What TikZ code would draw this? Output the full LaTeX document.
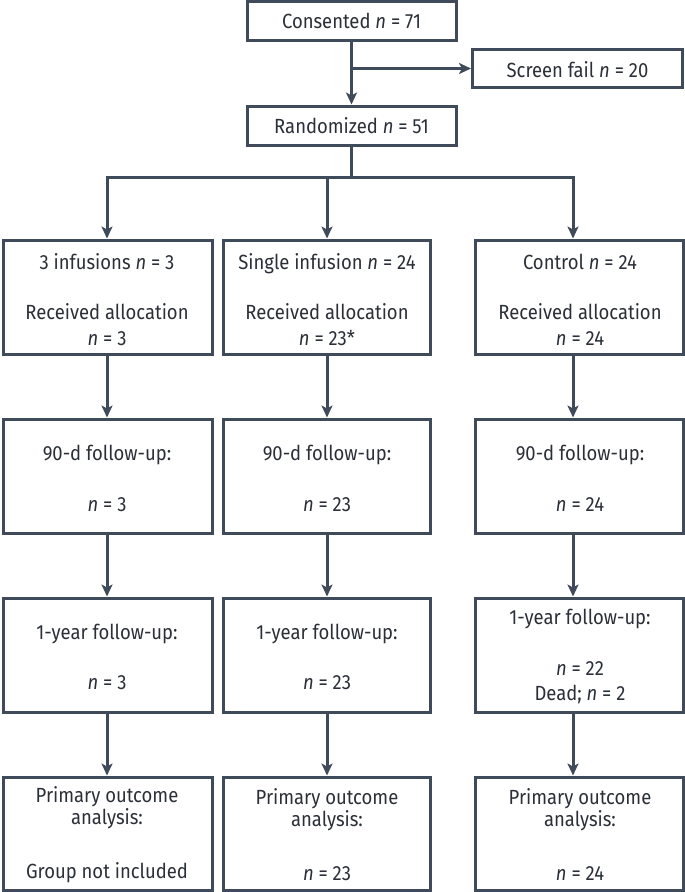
\documentclass[tikz,border=0pt]{standalone}
\usepackage{fontspec}
\setmainfont{Fira Sans}[FakeStretch=0.9]
\usetikzlibrary{arrows.meta}
\definecolor{ln}{HTML}{3F4A5A}
\definecolor{tx}{HTML}{2A2F38}
\newcommand{\nvar}{\textit{n}}
\begin{document}
\begin{tikzpicture}[x=1pt,y=-1pt,
  box/.style={draw=ln,line width=3pt,inner sep=0pt,fill=white},
  txt/.style={text=tx,font=\fontsize{20.5}{23}\selectfont,inner sep=0pt,text height=14pt,text depth=0pt,anchor=center},
  conn/.style={draw=ln,line width=3pt,line join=miter},
  arr/.style={conn,-{Stealth[length=12pt,width=11pt,inset=3pt]}}]
\useasboundingbox[fill=white] (0,0) rectangle (685,892);

% column arrow positions
\coordinate (k1) at (107,0);
\coordinate (k2) at (327,0);
\coordinate (k3) at (573,0);
\coordinate (hb) at (351.5,177);

% top boxes
\node[box,minimum width=209pt,minimum height=39pt] (cons) at (351.5,20.5) {};
\node[box,minimum width=210pt,minimum height=38pt] (scr) at (577.5,68.5) {};
\node[box,minimum width=209pt,minimum height=39pt] (rand) at (351.5,125.5) {};

% row 2
\node[box,minimum width=209pt,minimum height=114pt] (a1) at (107.5,297) {};
\node[box,minimum width=207pt,minimum height=114pt] (a2) at (326.5,297) {};
\node[box,minimum width=208pt,minimum height=114pt] (a3) at (579,297) {};
% row 3
\node[box,minimum width=209pt,minimum height=114pt] (b1) at (107.5,476) {};
\node[box,minimum width=207pt,minimum height=114pt] (b2) at (326.5,476) {};
\node[box,minimum width=208pt,minimum height=114pt] (b3) at (579,476) {};
% row 4
\node[box,minimum width=209pt,minimum height=114pt] (c1) at (107.5,655) {};
\node[box,minimum width=207pt,minimum height=114pt] (c2) at (326.5,655) {};
\node[box,minimum width=208pt,minimum height=114pt] (c3) at (579,655) {};
% row 5
\node[box,minimum width=209pt,minimum height=113pt] (d1) at (107.5,833.5) {};
\node[box,minimum width=207pt,minimum height=113pt] (d2) at (326.5,833.5) {};
\node[box,minimum width=208pt,minimum height=113pt] (d3) at (579,833.5) {};

% texts
\node[txt] (tcons) at (351.5,21) {Consented \nvar{} = 71};
\node[txt] (tscr) at (577.5,70) {Screen fail \nvar{} = 20};
\node[txt] (trand) at (351.5,126) {Randomized \nvar{} = 51};

\node[txt] (ta1a) at (107,262) {3 infusions \nvar{} = 3};
\node[txt] (ta1b) at (107,312) {Received allocation};
\node[txt] (ta1c) at (107,338) {\nvar{} = 3};
\node[txt] (ta2a) at (327,262) {Single infusion \nvar{} = 24};
\node[txt] (ta2b) at (327,312) {Received allocation};
\node[txt] (ta2c) at (327,338) {\nvar{} = 23*};
\node[txt] (ta3a) at (580,262) {Control \nvar{} = 24};
\node[txt] (ta3b) at (580,312) {Received allocation};
\node[txt] (ta3c) at (580,338) {\nvar{} = 24};

\node[txt] (tb1a) at (107,453) {90-d follow-up:};
\node[txt] (tb1b) at (107,504) {\nvar{} = 3};
\node[txt] (tb2a) at (327,453) {90-d follow-up:};
\node[txt] (tb2b) at (327,504) {\nvar{} = 23};
\node[txt] (tb3a) at (580,453) {90-d follow-up:};
\node[txt] (tb3b) at (580,504) {\nvar{} = 24};

\node[txt] (tc1a) at (107,632) {1-year follow-up:};
\node[txt] (tc1b) at (107,682) {\nvar{} = 3};
\node[txt] (tc2a) at (327,632) {1-year follow-up:};
\node[txt] (tc2b) at (327,682) {\nvar{} = 23};
\node[txt] (tc3a) at (580,617) {1-year follow-up:};
\node[txt] (tc3b) at (580,668) {\nvar{} = 22};
\node[txt] (tc3c) at (580,693) {Dead; \nvar{} = 2};

\node[txt] (td1a) at (107,795) {Primary outcome};
\node[txt] (td1b) at (107,817) {analysis:};
\node[txt] (td1c) at (107,871) {Group not included};
\node[txt] (td2a) at (327,797) {Primary outcome};
\node[txt] (td2b) at (327,819) {analysis:};
\node[txt] (td2c) at (327,873) {\nvar{} = 23};
\node[txt] (td3a) at (580,797) {Primary outcome};
\node[txt] (td3b) at (580,819) {analysis:};
\node[txt] (td3c) at (580,873) {\nvar{} = 24};

% connectors
\draw[arr] (cons.south) -- (rand.north);
\draw[arr] (cons.south |- scr.west) -- (scr.west);
\draw[conn] (rand.south) -- (hb);
\draw[arr] (hb) -| (a1.north -| k1);
\draw[arr] (hb -| k2) -- (a2.north -| k2);
\draw[arr] (hb) -| (a3.north -| k3);

\foreach \r/\s in {a/b,b/c,c/d}{
  \draw[arr] (\r1.south -| k1) -- (\s1.north -| k1);
  \draw[arr] (\r2.south -| k2) -- (\s2.north -| k2);
  \draw[arr] (\r3.south -| k3) -- (\s3.north -| k3);
}
\end{tikzpicture}
\end{document}
